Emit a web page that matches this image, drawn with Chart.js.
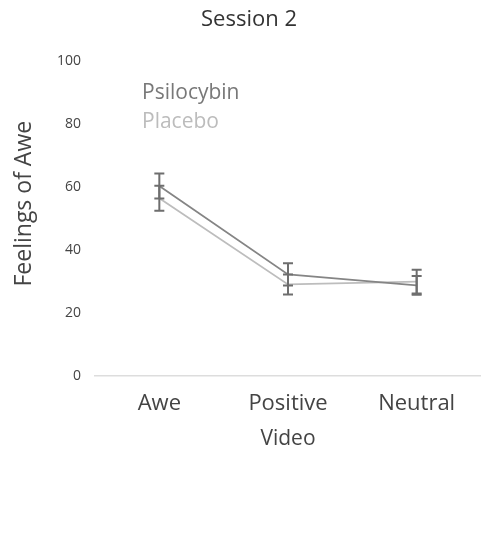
<!DOCTYPE html>
<html lang="en">
<head>
    <meta charset="UTF-8">
    <title>Session 2</title>
    <script src="https://cdn.jsdelivr.net/npm/chart.js"></script>
    <style>
        body {
            margin: 0;
            background-color: #ffffff;
        }
        .chart-box {
            width: 481px;
            height: 538px;
        }
    </style>
</head>
<body>

<div class="chart-box">
    <canvas id="aweChart"></canvas>
</div>

<script>
    // data
    const videos = ['Awe', 'Positive', 'Neutral'];
    const psilocybinMean = [60.4, 32.3, 28.8];
    const psilocybinErr = [4.0, 3.5, 3.0];
    const placeboMean = [56.5, 29.1, 30.0];
    const placeboErr = [4.0, 3.2, 3.8];
    const yTicks = [0, 20, 40, 60, 80, 100];
    const yTitle = 'Feelings of Awe';

    const fontName = '"Open Sans", "Noto Sans", sans-serif';

    // error bars, drawn through the chart scales
    const errorBars = {
        id: 'errorBars',
        afterDatasetsDraw(chart) {
            const ctx = chart.ctx;
            const x = chart.scales.x;
            const y = chart.scales.y;
            ctx.save();
            ctx.strokeStyle = '#6e6e6e';
            ctx.lineWidth = 2;
            chart.data.datasets.forEach(ds => {
                ds.data.forEach((v, i) => {
                    const px = x.getPixelForValue(i);
                    const top = y.getPixelForValue(v + ds.err[i]);
                    const bot = y.getPixelForValue(v - ds.err[i]);
                    ctx.beginPath();
                    ctx.moveTo(px, top);
                    ctx.lineTo(px, bot);
                    ctx.moveTo(px - 5, top);
                    ctx.lineTo(px + 5, top);
                    ctx.moveTo(px - 5, bot);
                    ctx.lineTo(px + 5, bot);
                    ctx.stroke();
                });
            });
            ctx.restore();
        }
    };

    // text legend in the upper part of the plot + y axis title
    const textLegend = {
        id: 'textLegend',
        afterDraw(chart) {
            const ctx = chart.ctx;
            const area = chart.chartArea;
            ctx.save();
            ctx.font = '21px ' + fontName;
            ctx.textBaseline = 'middle';
            ctx.textAlign = 'left';
            chart.data.datasets.forEach((ds, i) => {
                ctx.fillStyle = ds.textColor;
                ctx.fillText(ds.label, area.left + 47, area.top + 32 + i * 29);
            });

            // y title sits a bit above the middle of the plot, as in the original
            ctx.translate(24, area.top + (area.bottom - area.top) / 2 - 15);
            ctx.rotate(-Math.PI / 2);
            ctx.textAlign = 'center';
            ctx.fillStyle = '#444444';
            ctx.font = '23px ' + fontName;
            ctx.fillText(yTitle, 0, 0);
            ctx.restore();
        }
    };

    const ctx1 = document.getElementById('aweChart').getContext('2d');
    const aweChart = new Chart(ctx1, {
        type: 'line',
        data: {
            labels: videos,
            datasets: [{
                label: 'Psilocybin',
                data: psilocybinMean,
                err: psilocybinErr,
                borderColor: '#858585',
                textColor: '#787878',
                borderWidth: 1.8,
                pointRadius: 0
            }, {
                label: 'Placebo',
                data: placeboMean,
                err: placeboErr,
                borderColor: '#bdbdbd',
                textColor: '#bcbcbc',
                borderWidth: 1.8,
                pointRadius: 0
            }]
        },
        options: {
            responsive: true,
            maintainAspectRatio: false,
            animation: false,
            layout: {
                padding: { left: 17, right: 0, top: 0, bottom: 88 }
            },
            plugins: {
                legend: { display: false },
                tooltip: { enabled: false },
                title: {
                    display: true,
                    text: 'Session 2',
                    color: '#333333',
                    font: { family: fontName, size: 22, weight: 'normal' },
                    padding: { top: 7, bottom: 28 }
                }
            },
            scales: {
                x: {
                    offset: true,
                    grid: { display: false, drawTicks: false },
                    border: { display: true, color: '#dddddd', width: 1.5 },
                    ticks: {
                        color: '#444444',
                        padding: 17,
                        font: { family: fontName, size: 22, lineHeight: 1 }
                    },
                    title: {
                        display: true,
                        text: 'Video',
                        color: '#444444',
                        font: { family: fontName, size: 21, lineHeight: 1 },
                        padding: { top: -3, bottom: 0 }
                    }
                },
                y: {
                    min: 0,
                    max: 100,
                    afterBuildTicks: axis => {
                        axis.ticks = yTicks.map(v => ({ value: v }));
                    },
                    afterFit: axis => {
                        axis.width = 78;
                    },
                    grid: { display: false, drawTicks: false },
                    border: { display: false },
                    ticks: {
                        color: '#444444',
                        padding: 14,
                        font: { family: fontName, size: 14 }
                    }
                }
            }
        },
        plugins: [errorBars, textLegend]
    });
</script>

</body>
</html>
